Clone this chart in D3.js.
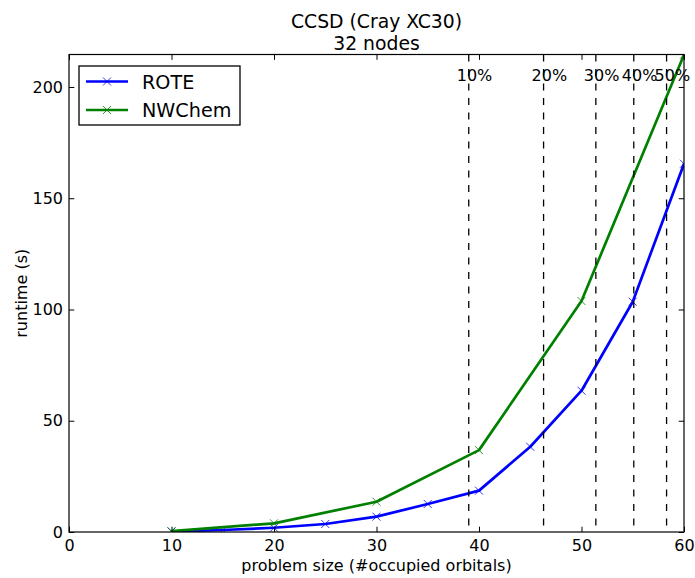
<!DOCTYPE html>
<html>
<head>
<meta charset="utf-8">
<script src="https://cdn.jsdelivr.net/npm/d3@7"></script>
<style>
  body { margin: 0; background: #fff; }
  svg { display: block; font-family: "DejaVu Sans", sans-serif; }
</style>
</head>
<body>
<svg id="chart" width="695" height="578"></svg>
<script>
// ---- data ----
const roteX = [10, 15, 20, 25, 30, 35, 40, 45, 50, 55, 60];
const roteY = [0.2, 0.9, 1.9, 3.6, 6.9, 12.6, 18.6, 38.3, 63.5, 103.5, 165.5];
const nwchemX = [10, 20, 30, 40, 50, 60];
const nwchemY = [0.4, 3.9, 13.6, 36.8, 103.8, 214.5];
const pctX = [39.0, 46.3, 51.4, 55.1, 58.3];
const pctLabels = ["10%", "20%", "30%", "40%", "50%"];
const xTicks = [0, 10, 20, 30, 40, 50, 60];
const yTicks = [0, 50, 100, 150, 200];
const xDomain = [0, 60];
const yDomain = [0, 214.6];
const seriesNames = ["ROTE", "NWChem"];
const seriesColors = ["#0000ff", "#008000"];

// ---- layout ----
const W = 695, H = 578;
const m = { left: 69, right: 11, top: 54.5, bottom: 46 };
const svg = d3.select("#chart");
const x = d3.scaleLinear().domain(xDomain).range([m.left, W - m.right]);
const y = d3.scaleLinear().domain(yDomain).range([H - m.bottom, m.top]);

svg.append("defs").append("clipPath").attr("id", "clip")
  .append("rect").attr("x", m.left).attr("y", m.top)
  .attr("width", W - m.left - m.right).attr("height", H - m.top - m.bottom);

const plot = svg.append("g").attr("clip-path", "url(#clip)");

// series
const series = [
  { name: seriesNames[0], color: seriesColors[0], xs: roteX, ys: roteY },
  { name: seriesNames[1], color: seriesColors[1], xs: nwchemX, ys: nwchemY }
];
const line = d3.line().x(d => x(d[0])).y(d => y(d[1]));
function xMarker(g, cx, cy, color) {
  const s = 4;
  g.append("path")
    .attr("d", `M${cx - s},${cy - s}L${cx + s},${cy + s}M${cx - s},${cy + s}L${cx + s},${cy - s}`)
    .attr("stroke", color).attr("stroke-width", 0.8).attr("fill", "none");
}
series.forEach(s => {
  const pts = s.xs.map((v, i) => [v, s.ys[i]]);
  plot.append("path").datum(pts).attr("d", line)
    .attr("fill", "none").attr("stroke", s.color).attr("stroke-width", 2.7)
    .attr("stroke-linejoin", "round");
  pts.forEach(p => xMarker(plot, x(p[0]), y(p[1]), s.color));
});

// vertical dashed lines
pctX.forEach((v, i) => {
  plot.append("line")
    .attr("x1", x(v)).attr("x2", x(v))
    .attr("y1", m.top).attr("y2", H - m.bottom)
    .attr("stroke", "#000").attr("stroke-width", 1.3)
    .attr("stroke-dasharray", "7,7.5");
  svg.append("text")
    .attr("x", x(v) - 12).attr("y", m.top + 26.5)
    .attr("font-size", 16).attr("fill", "#000")
    .text(pctLabels[i]);
});

// axes frame
const axG = svg.append("g");
axG.append("rect").attr("x", m.left).attr("y", m.top)
  .attr("width", W - m.left - m.right).attr("height", H - m.top - m.bottom)
  .attr("fill", "none").attr("stroke", "#000").attr("stroke-width", 1.2);

// ticks (inward, all four sides) using d3 axes
const tl = 5.3;
const xb = svg.append("g").attr("transform", `translate(0,${H - m.bottom})`)
  .call(d3.axisBottom(x).tickValues(xTicks).tickSize(-tl).tickPadding(7.6).tickFormat(d3.format("d")));
const xt = svg.append("g").attr("transform", `translate(0,${m.top})`)
  .call(d3.axisTop(x).tickValues(xTicks).tickSize(-tl).tickFormat(""));
const yl = svg.append("g").attr("transform", `translate(${m.left},0)`)
  .call(d3.axisLeft(y).tickValues(yTicks).tickSize(-tl).tickPadding(6).tickFormat(d3.format("d")));
const yr = svg.append("g").attr("transform", `translate(${W - m.right},0)`)
  .call(d3.axisRight(y).tickValues(yTicks).tickSize(-tl).tickFormat(""));
[xb, xt, yl, yr].forEach(g => {
  g.select(".domain").remove();
  g.selectAll(".tick line").attr("stroke", "#000").attr("stroke-width", 1);
  g.selectAll("text").attr("font-size", 16).attr("fill", "#000")
    .attr("font-family", "DejaVu Sans, sans-serif");
});

// axis labels
svg.append("text").attr("x", (m.left + W - m.right) / 2).attr("y", 571)
  .attr("text-anchor", "middle").attr("font-size", 16).text("problem size (#occupied orbitals)");
svg.append("text")
  .attr("transform", `translate(27,${(m.top + H - m.bottom) / 2}) rotate(-90)`)
  .attr("text-anchor", "middle").attr("font-size", 16).text("runtime (s)");

// title
svg.append("text").attr("x", (m.left + W - m.right) / 2).attr("y", 28)
  .attr("text-anchor", "middle").attr("font-size", 18.8).text("CCSD (Cray XC30)");
svg.append("text").attr("x", (m.left + W - m.right) / 2).attr("y", 50)
  .attr("text-anchor", "middle").attr("font-size", 18.8).text("32 nodes");

// legend
const lg = svg.append("g");
lg.append("rect").attr("x", 79).attr("y", 66).attr("width", 161).attr("height", 59)
  .attr("fill", "#fff").attr("stroke", "#000").attr("stroke-width", 1.3);
series.forEach((s, i) => {
  const ly = 81.5 + i * 28.5;
  lg.append("line").attr("x1", 86).attr("x2", 128).attr("y1", ly).attr("y2", ly)
    .attr("stroke", s.color).attr("stroke-width", 2.7);
  xMarker(lg, 107, ly, s.color);
  lg.append("text").attr("x", 142).attr("y", ly + 7).attr("font-size", 19.2).text(s.name);
});
</script>
</body>
</html>
